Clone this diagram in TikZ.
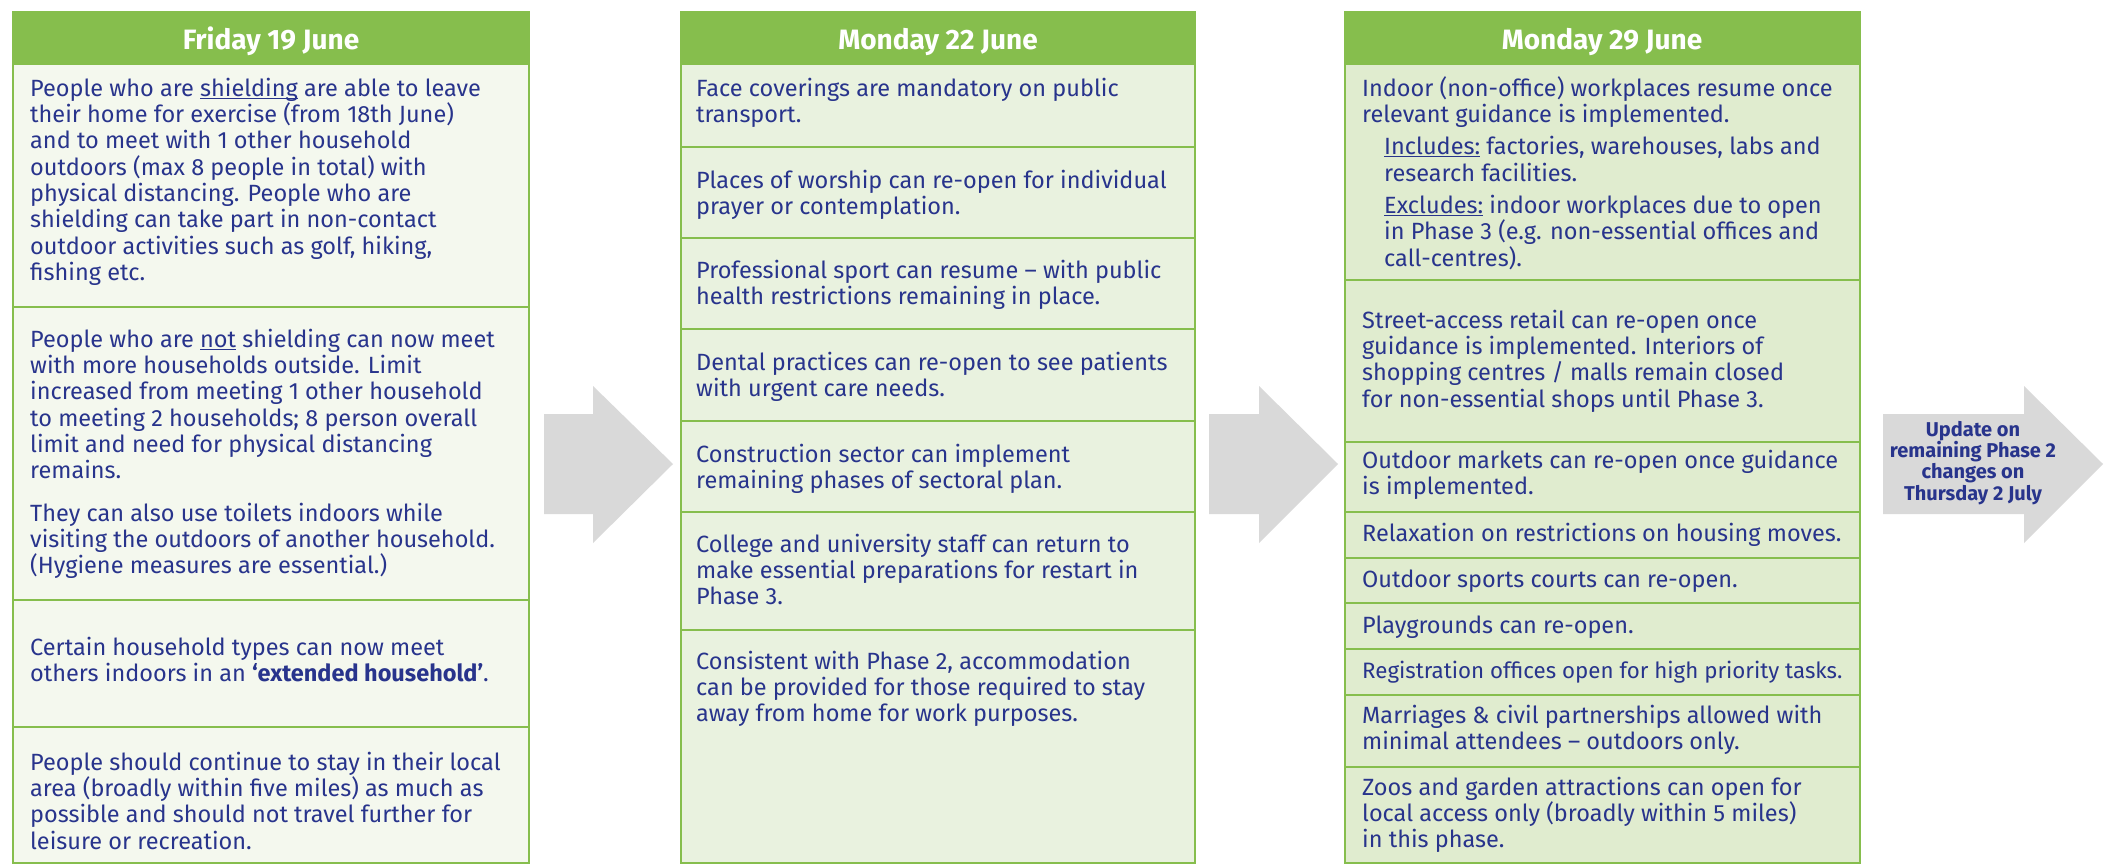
\documentclass[tikz,border=0pt]{standalone}
\usepackage{fontspec}
\setmainfont{Fira Sans}
\definecolor{gr}{RGB}{134,190,77}
\definecolor{fillA}{RGB}{244,248,238}
\definecolor{fillB}{RGB}{233,242,223}
\definecolor{fillC}{RGB}{224,236,207}
\definecolor{arrowgrey}{RGB}{217,217,217}
\definecolor{navy}{RGB}{40,52,140}
\newsavebox\myulbox
\newcommand\myul[1]{\sbox\myulbox{#1}\rlap{\rule[-2.6pt]{\wd\myulbox}{1.3pt}}\usebox\myulbox}
\newcommand\fst{\rule{0pt}{20pt}}
\newcommand\arst{\rule{0pt}{16pt}}
\newcommand\ind{\hspace*{22pt}}
\tikzset{
  cellA/.style={draw=gr, line width=2.5pt, fill=fillA},
  cellB/.style={draw=gr, line width=2.5pt, fill=fillB},
  cellC/.style={draw=gr, line width=2.5pt, fill=fillC},
  hdr/.style={draw=gr, fill=gr, line width=2.5pt},
  hdrtxt/.style={text=white, font=\fontsize{28}{30}\selectfont\bfseries, anchor=base, inner sep=0pt},
  body/.style={text=navy, font=\fontsize{23.5}{26.3}\selectfont, anchor=north west, inner sep=0pt, align=left},
  narrowbody/.style={body, font=\fontsize{22.3}{26.3}\selectfont},
  arr/.style={fill=arrowgrey, draw=none},
  arrtxt/.style={text=navy, font=\fontsize{20}{21.3}\selectfont\bfseries, anchor=north, inner sep=0pt, align=center}
}
\begin{document}
\begin{tikzpicture}[x=1pt, y=-1pt]
\useasboundingbox (0,0) rectangle (2112,865);
\fill[white] (0,0) rectangle (2112,865);

% ---------- Column 1 ----------
\draw[hdr] (13,12) rectangle (529,64);
\node[hdrtxt] (h1) at (271,49) {Friday 19 June};
\draw[cellA] (13,64) rectangle (529,307);
\draw[cellA] (13,307) rectangle (529,600);
\draw[cellA] (13,600) rectangle (529,727);
\draw[cellA] (13,727) rectangle (529,863);
\node[body] (a1) at (30,76) {\fst People who are \myul{shielding} are able to leave\\
their home for exercise (from 18th June)\\
and to meet with 1 other household\\
outdoors (max 8 people in total) with\\
physical distancing. People who are\\
shielding can take part in non-contact\\
outdoor activities such as golf, hiking,\\
fishing etc.};
\node[body] (a2) at (30,327) {\fst People who are \myul{not} shielding can now meet\\
with more households outside. Limit\\
increased from meeting 1 other household\\
to meeting 2 households; 8 person overall\\
limit and need for physical distancing\\
remains.\\[16pt]
They can also use toilets indoors while\\
visiting the outdoors of another household.\\
(Hygiene measures are essential.)};
\node[body] (a3) at (30,635) {\fst Certain household types can now meet\\
others indoors in an \textbf{‘extended household’}.};
\node[body] (a4) at (30,750) {\fst People should continue to stay in their local\\
area (broadly within five miles) as much as\\
possible and should not travel further for\\
leisure or recreation.};

% ---------- Arrow 1 ----------
\fill[arr] (544,414) -- (593,414) -- (593,386) -- (673,464) -- (593,543) -- (593,514) -- (544,514) -- cycle;

% ---------- Column 2 ----------
\draw[hdr] (681,12) rectangle (1195,64);
\node[hdrtxt] (h2) at (938,49) {Monday 22 June};
\draw[cellB] (681,64) rectangle (1195,147);
\draw[cellB] (681,147) rectangle (1195,238);
\draw[cellB] (681,238) rectangle (1195,329);
\draw[cellB] (681,329) rectangle (1195,421);
\draw[cellB] (681,421) rectangle (1195,512);
\draw[cellB] (681,512) rectangle (1195,630);
\draw[cellB] (681,630) rectangle (1195,863);
\node[body] (b1) at (696,76) {\fst Face coverings are mandatory on public\\
transport.};
\node[body] (b2) at (696,168) {\fst Places of worship can re-open for individual\\
prayer or contemplation.};
\node[body] (b3) at (696,258) {\fst Professional sport can resume -- with public\\
health restrictions remaining in place.};
\node[body] (b4) at (696,350) {\fst Dental practices can re-open to see patients\\
with urgent care needs.};
\node[body] (b5) at (696,442) {\fst Construction sector can implement\\
remaining phases of sectoral plan.};
\node[body] (b6) at (696,532) {\fst College and university staff can return to\\
make essential preparations for restart in\\
Phase 3.};
\node[body] (b7) at (696,649) {\fst Consistent with Phase 2, accommodation\\
can be provided for those required to stay\\
away from home for work purposes.};

% ---------- Arrow 2 ----------
\fill[arr] (1209,414) -- (1259,414) -- (1259,386) -- (1338,464) -- (1259,543) -- (1259,514) -- (1209,514) -- cycle;

% ---------- Column 3 ----------
\draw[hdr] (1345,12) rectangle (1860,64);
\node[hdrtxt] (h3) at (1602,49) {Monday 29 June};
\draw[cellC] (1345,64) rectangle (1860,280);
\draw[cellC] (1345,280) rectangle (1860,442);
\draw[cellC] (1345,442) rectangle (1860,512);
\draw[cellC] (1345,512) rectangle (1860,558);
\draw[cellC] (1345,558) rectangle (1860,603);
\draw[cellC] (1345,603) rectangle (1860,649);
\draw[cellC] (1345,649) rectangle (1860,695);
\draw[cellC] (1345,695) rectangle (1860,767);
\draw[cellC] (1345,767) rectangle (1860,863);
\node[body] (c1) at (1362,76) {\fst Indoor (non-office) workplaces resume once\\
relevant guidance is implemented.\\[6pt]
\ind\myul{Includes:} factories, warehouses, labs and\\
\ind research facilities.\\[6pt]
\ind\myul{Excludes:} indoor workplaces due to open\\
\ind in Phase 3 (e.g. non-essential offices and\\
\ind call-centres).};
\node[body] (c2) at (1362,308) {\fst Street-access retail can re-open once\\
guidance is implemented. Interiors of\\
shopping centres / malls remain closed\\
for non-essential shops until Phase 3.};
\node[body] (c3) at (1362,448) {\fst Outdoor markets can re-open once guidance\\
is implemented.};
\node[body] (c4) at (1362,521) {\fst Relaxation on restrictions on housing moves.};
\node[body] (c5) at (1362,567) {\fst Outdoor sports courts can re-open.};
\node[body] (c6) at (1362,613) {\fst Playgrounds can re-open.};
\node[narrowbody] (c7) at (1362,658) {\fst Registration offices open for high priority tasks.};
\node[body] (c8) at (1362,703) {\fst Marriages \& civil partnerships allowed with\\
minimal attendees -- outdoors only.};
\node[body] (c9) at (1362,775) {\fst Zoos and garden attractions can open for\\
local access only (broadly within 5 miles)\\
in this phase.};

% ---------- Arrow 3 ----------
\fill[arr] (1883,414) -- (2024,414) -- (2024,386) -- (2103,464) -- (2024,543) -- (2024,514) -- (1883,514) -- cycle;
\node[arrtxt] (upd) at (1973,420) {\arst Update on\\
remaining Phase 2\\
changes on\\
Thursday 2 July};
\end{tikzpicture}
\end{document}
